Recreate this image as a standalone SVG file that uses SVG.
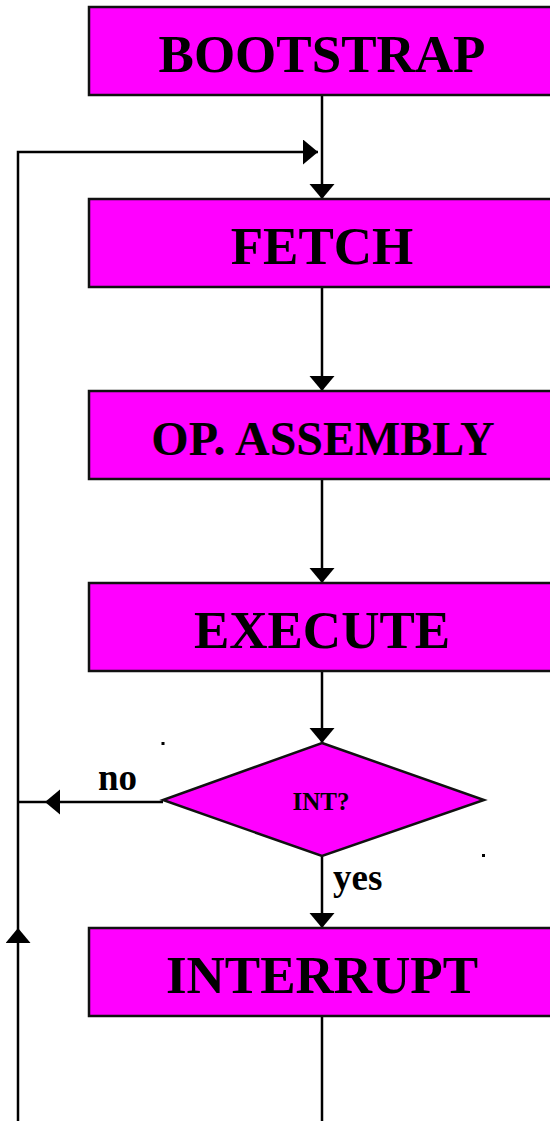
<svg xmlns="http://www.w3.org/2000/svg" width="550" height="1121" viewBox="0 0 550 1121">
<style>
.box{fill:#FF00FF;stroke:#111;stroke-width:2.5}
.big{font-family:"Liberation Serif","Times New Roman",serif;font-weight:bold;font-size:53px;fill:#000;text-anchor:middle}
.lbl{font-family:"Liberation Serif","Times New Roman",serif;font-weight:bold;font-size:37px;fill:#000}
.ln{stroke:#000;stroke-width:2.5;fill:none}
</style>
<defs>
<marker id="arr" markerUnits="userSpaceOnUse" markerWidth="16" markerHeight="26" refX="15" refY="12.5" orient="auto" viewBox="0 0 16 26">
<path d="M0,0 L15,12.5 L0,25 Z" fill="#000"/>
</marker>
</defs>
<g id="connectors">
<line class="ln" x1="322" y1="95" x2="322" y2="199" marker-end="url(#arr)"/>
<line class="ln" x1="322" y1="287" x2="322" y2="391" marker-end="url(#arr)"/>
<line class="ln" x1="322" y1="479" x2="322" y2="583" marker-end="url(#arr)"/>
<line class="ln" x1="322" y1="671" x2="322" y2="743" marker-end="url(#arr)"/>
<line class="ln" x1="322" y1="856" x2="322" y2="928" marker-end="url(#arr)"/>
<line class="ln" x1="322" y1="1016" x2="322" y2="1121"/>
<line class="ln" x1="18" y1="1121" x2="18" y2="928" marker-end="url(#arr)"/>
<polyline class="ln" points="18,928 18,152 318,152" marker-end="url(#arr)"/>
<line class="ln" x1="163" y1="802" x2="45" y2="802" marker-end="url(#arr)"/>
<line class="ln" x1="45" y1="802" x2="18" y2="802"/>
<text class="lbl" x="98" y="790">no</text>
<text class="lbl" x="333" y="890">yes</text>
<rect x="161.5" y="742" width="3" height="3" fill="#000"/>
<rect x="482" y="854" width="3" height="3" fill="#000"/>
</g>
<g id="bootstrap">
<rect class="box" x="89" y="7" width="470" height="88"/>
<text class="big" x="322" y="72">BOOTSTRAP</text>
</g>
<g id="fetch">
<rect class="box" x="89" y="199" width="470" height="88"/>
<text class="big" x="322" y="264">FETCH</text>
</g>
<g id="opassembly">
<rect class="box" x="89" y="391" width="470" height="88"/>
<text class="big" x="323" y="455" style="font-size:48px">OP. ASSEMBLY</text>
</g>
<g id="execute">
<rect class="box" x="89" y="583" width="470" height="88"/>
<text class="big" x="322" y="648">EXECUTE</text>
</g>
<g id="int">
<polygon class="box" points="322,743 484,800 322,856 163,800"/>
<text class="big" x="321" y="810" style="font-size:25px">INT?</text>
</g>
<g id="interrupt">
<rect class="box" x="89" y="928" width="470" height="88"/>
<text class="big" x="322" y="993">INTERRUPT</text>
</g>
</svg>
